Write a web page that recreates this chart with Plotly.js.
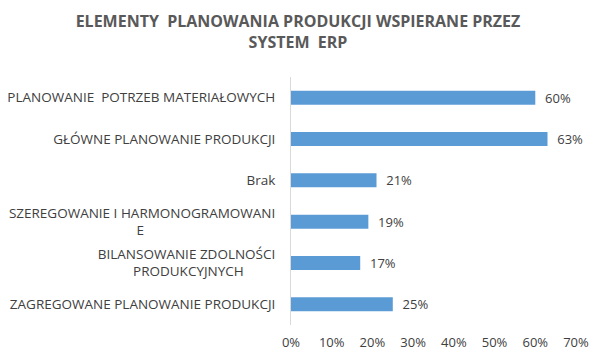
<!DOCTYPE html>
<html>
<head>
<meta charset="utf-8">
<script src="https://cdn.plot.ly/plotly-3.0.1.min.js"></script>
<style>html,body{margin:0;padding:0;background:#fff;}#chart{width:602px;height:359px;}</style>
</head>
<body>
<div id="chart"></div>
<script>
var NB = "\u00a0";
var FS = "\u2007";
function pad(n, ch){ var s=""; for(var i=0;i<n;i++) s+=(ch || NB); return s; }
var categories = [
  "PLANOWANIE  POTRZEB MATERIAŁOWYCH",
  "GŁÓWNE PLANOWANIE PRODUKCJI",
  "Brak",
  "SZEREGOWANIE I HARMONOGRAMOWANI<br>E" + pad(17, FS),
  "BILANSOWANIE ZDOLNOŚCI<br>PRODUKCYJNYCH" + pad(9),
  "ZAGREGOWANE PLANOWANIE PRODUKCJI"
];
var values = [0.60, 0.63, 0.21, 0.19, 0.17, 0.25];
var valueLabels = ["60%", "63%", "21%", "19%", "17%", "25%"];
var tickVals = [0, 0.1, 0.2, 0.3, 0.4, 0.5, 0.6, 0.7];
var tickText = ["0%", "10%", "20%", "30%", "40%", "50%", "60%", "70%"];

var font = "Open Sans, Noto Sans, sans-serif";
var trace = {
  type: "bar",
  orientation: "h",
  y: categories,
  x: values,
  text: valueLabels.map(function(s){ return NB + NB + s; }),
  textposition: "outside",
  constraintext: "none",
  cliponaxis: false,
  textfont: {family: font, size: 13, color: "#404040"},
  marker: {color: "#5b9bd5"},
  width: 0.34,
  hoverinfo: "none"
};
var layout = {
  width: 602, height: 359,
  margin: {l: 291, r: 26, t: 77, b: 34},
  paper_bgcolor: "#ffffff", plot_bgcolor: "#ffffff",
  showlegend: false,
  title: {
    text: "<b>ELEMENTY  PLANOWANIA PRODUKCJI WSPIERANE PRZEZ<br>SYSTEM  ERP</b>",
    font: {family: font, size: 16, color: "#595959"},
    x: 0.495, xanchor: "center", y: 0.925, yanchor: "top"
  },
  xaxis: {
    range: [0, 0.7], tickvals: tickVals, ticktext: tickText,
    showgrid: false, zeroline: false, showline: false,
    ticklabelstandoff: 8,
    tickfont: {family: font, size: 13, color: "#404040"}
  },
  yaxis: {
    autorange: "reversed", showgrid: false, zeroline: false,
    showline: true, linecolor: "#d9d9d9", linewidth: 1,
    ticklabelstandoff: 12,
    tickfont: {family: font, size: 13.5, color: "#404040"}
  },
  bargap: 0.66
};
Plotly.newPlot("chart", [trace], layout, {displayModeBar: false});
</script>
</body>
</html>
